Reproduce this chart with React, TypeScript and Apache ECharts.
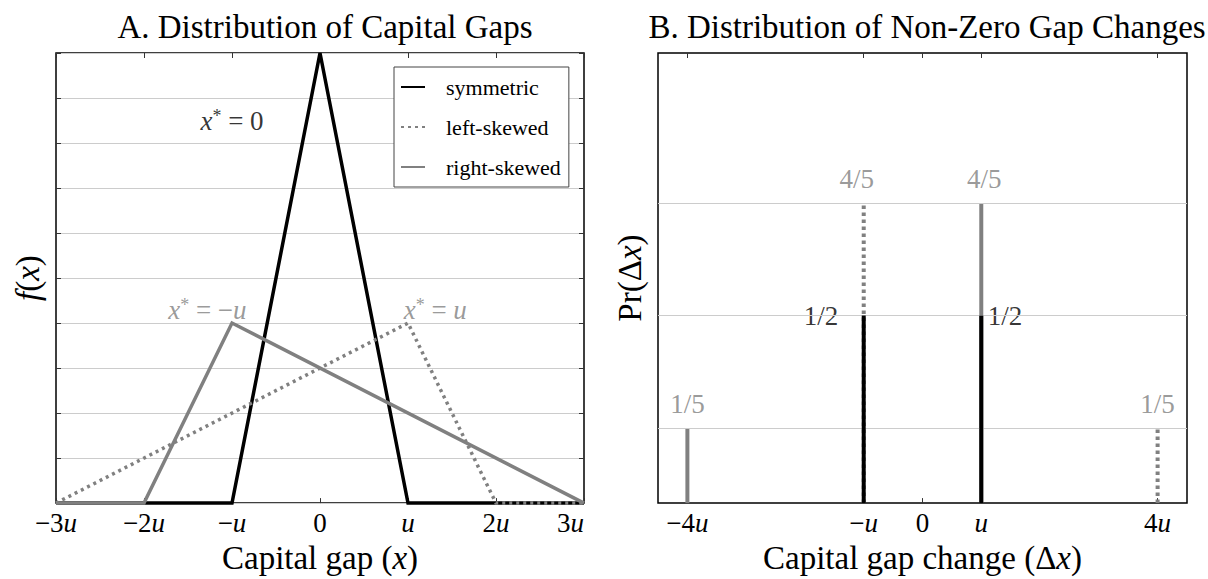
import React, { useEffect, useRef } from 'react';
import * as echarts from 'echarts';

const FONT = 'Liberation Serif, DejaVu Serif, serif';
const BLACK = '#000000';
const GRAY = '#808080';
const GRID_GRAY = '#cccccc';

// ---------- Panel A: distribution of capital gaps (x in units of u, f in units of 1/u)
const seriesNames = ['symmetric', 'left-skewed', 'right-skewed'];
const symmetricX = [-3, -1, 0, 1, 3];
const symmetricY = [0, 0, 1, 0, 0];
const leftSkewedX = [-3, 1, 2, 3];
const leftSkewedY = [0, 0.4, 0, 0];
const rightSkewedX = [-3, -2, -1, 3];
const rightSkewedY = [0, 0, 0.4, 0];
const gapTickValues = [-3, -2, -1, 0, 1, 2, 3];
const gapTickLabels = ['−3u', '−2u', '−u', '0', 'u', '2u', '3u'];
const modeLabelValues = ['0', '−u', 'u'];
const modeLabelX = [-1, -1.28, 1.31];
const modeLabelY = [0.85, 0.43, 0.43];
const modeLabelColors = [BLACK, GRAY, GRAY];

// ---------- Panel B: distribution of non-zero gap changes
const changeTickValues = [-4, -1, 0, 1, 4];
const changeTickLabels = ['−4u', '−u', '0', 'u', '4u'];
const symmetricChangeX = [-1, 1];
const symmetricChangeP = [0.5, 0.5];
const symmetricChangeLabels = ['1/2', '1/2'];
const leftChangeX = [-1, 4];
const leftChangeP = [0.8, 0.2];
const leftChangeLabels = ['4/5', '1/5'];
const rightChangeX = [-4, 1];
const rightChangeP = [0.2, 0.8];
const rightChangeLabels = ['1/5', '4/5'];
const probGridLevels = [0.2, 0.5, 0.8];

const styles = [
  { color: BLACK, type: 'solid' as any, widthA: 3.5, widthB: 4 },
  { color: GRAY, type: [3, 4] as any, widthA: 3.5, widthB: 4 },
  { color: GRAY, type: 'solid' as any, widthA: 3.5, widthB: 4 },
];

const italic = (size: number, color = BLACK) => ({
  fontFamily: FONT,
  fontSize: size,
  fontStyle: 'italic',
  fontWeight: 'normal',
  color,
});
const upright = (size: number, color = BLACK) => ({
  fontFamily: FONT,
  fontSize: size,
  fontWeight: 'normal',
  color,
});

const mathTick = (s: string) => {
  const m = s.match(/^(.*?)(u?)$/);
  const num = m ? m[1] : s;
  const hasU = m ? m[2] === 'u' : false;
  return (num ? '{n|' + num + '}' : '') + (hasU ? '{i|u}' : '');
};

const tickAxisLabel = (values: number[], labels: string[]) => ({
  show: true,
  margin: 6,
  fontFamily: FONT,
  fontSize: 27,
  fontWeight: 'normal',
  color: BLACK,
  formatter: (v: number) => {
    const idx = values.findIndex((t) => Math.abs(t - v) < 1e-9);
    return idx >= 0 ? mathTick(labels[idx]) : '';
  },
  rich: { i: italic(27), n: upright(27) },
});

export default function App() {
  const ref = useRef<HTMLDivElement>(null);

  useEffect(() => {
    document.body.style.margin = '0';
    if (!ref.current) return;
    const chart = echarts.init(ref.current, undefined, { renderer: 'svg' });

    const xsA = [symmetricX, leftSkewedX, rightSkewedX];
    const ysA = [symmetricY, leftSkewedY, rightSkewedY];

    const seriesA = seriesNames.map((name, k) => ({
      name,
      type: 'line',
      xAxisIndex: 0,
      yAxisIndex: 0,
      data: xsA[k].map((x, i) => [x, ysA[k][i]]),
      symbol: 'none',
      clip: false,
      z: 3 + k,
      lineStyle: { color: styles[k].color, width: styles[k].widthA, type: styles[k].type, cap: 'butt', join: 'miter' },
      itemStyle: { color: styles[k].color },
    }));

    const stemXs = [symmetricChangeX, leftChangeX, rightChangeX];
    const stemPs = [symmetricChangeP, leftChangeP, rightChangeP];
    const stemSeries: any[] = [];
    [1, 2, 0].forEach((k) => {
      stemXs[k].forEach((x, i) => {
        stemSeries.push({
          name: seriesNames[k],
          type: 'line',
          xAxisIndex: 2,
          yAxisIndex: 2,
          data: [
            [x, 0],
            [x, stemPs[k][i]],
          ],
          symbol: 'none',
          clip: false,
          z: k === 0 ? 6 : 4,
          lineStyle: { color: styles[k].color, width: styles[k].widthB, type: k === 1 ? [3.5, 3.5] : 'solid', cap: 'butt' },
          itemStyle: { color: styles[k].color },
        });
      });
    });

    const probLabelData: any[] = [];
    symmetricChangeX.forEach((x, i) => {
      probLabelData.push({
        value: [x, symmetricChangeP[i]],
        label: {
          show: true,
          formatter: symmetricChangeLabels[i],
          position: x < 0 ? 'left' : 'right',
          distance: x < 0 ? 25 : 6,
          color: BLACK,
          fontFamily: FONT,
          fontWeight: 'normal',
          fontSize: 27,
        },
      });
    });
    [
      [leftChangeX, leftChangeP, leftChangeLabels],
      [rightChangeX, rightChangeP, rightChangeLabels],
    ].forEach(([xs, ps, ls]: any) => {
      xs.forEach((x: number, i: number) => {
        const p = ps[i];
        const nudge = p > 0.5 ? (x < 0 ? -7 : 3) : 0;
        probLabelData.push({
          value: [x, p],
          label: {
            show: true,
            formatter: ls[i],
            position: 'top',
            distance: 10,
            offset: [nudge, 0],
            color: GRAY,
            fontFamily: FONT,
            fontWeight: 'normal',
            fontSize: 27,
          },
        });
      });
    });

    const modeData = modeLabelValues.map((v, i) => {
      const valPart = v.endsWith('u') ? (v.length > 1 ? '{n|' + v.slice(0, -1) + '}' : '') + '{x|u}' : '{n|' + v + '}';
      return {
        value: [modeLabelX[i], modeLabelY[i]],
        label: {
          show: true,
          position: 'inside',
          formatter: '{x|x}{s|*}{n| = }' + valPart,
          rich: {
            x: italic(27, modeLabelColors[i]),
            s: { ...upright(18, modeLabelColors[i]), verticalAlign: 'top' },
            n: upright(27, modeLabelColors[i]),
          },
        },
      };
    });

    const hiddenAxis = {
      axisLine: { show: false, onZero: false },
      axisLabel: { show: false },
      splitLine: { show: false },
    };
    const tickStyle = { inside: true, length: 5, lineStyle: { color: '#333', width: 1 } };
    const nameStyle = { fontFamily: FONT, fontSize: 33, fontWeight: 'normal', color: BLACK, rich: { i: italic(33), n: upright(33) } };

    const option: any = {
      animation: false,
      backgroundColor: '#ffffff',
      textStyle: { fontFamily: FONT, fontWeight: 'normal' },
      title: [
        {
          text: 'A. Distribution of Capital Gaps',
          left: 320,
          top: 5,
          textAlign: 'center',
          textStyle: { fontFamily: FONT, fontSize: 33, fontWeight: 'normal', color: BLACK },
        },
        {
          text: 'B. Distribution of Non-Zero Gap Changes',
          left: 922,
          top: 5,
          textAlign: 'center',
          textStyle: { fontFamily: FONT, fontSize: 33, fontWeight: 'normal', color: BLACK },
        },
      ],
      legend: {
        data: seriesNames,
        orient: 'vertical',
        left: 394,
        top: 67,
        itemWidth: 24,
        itemHeight: 12,
        itemGap: 18,
        padding: [9, 8, 9, 6],
        borderColor: '#444',
        borderWidth: 1,
        borderRadius: 0,
        backgroundColor: '#ffffff',
        itemStyle: { opacity: 0 },
        textStyle: { fontFamily: FONT, fontSize: 22, fontWeight: 'normal', color: BLACK, lineHeight: 22, padding: [0, 0, 0, 16] },
        selectedMode: false,
      },
      grid: [
        { left: 56, top: 53, width: 528, height: 454, show: true, borderColor: BLACK, borderWidth: 1.5, backgroundColor: 'transparent' },
        { left: 658, top: 53, width: 529, height: 454, show: true, borderColor: BLACK, borderWidth: 1.5, backgroundColor: 'transparent' },
      ],
      xAxis: [
        {
          gridIndex: 0,
          type: 'value',
          min: -3,
          max: 3,
          interval: 1,
          position: 'bottom',
          axisLine: { show: false, onZero: false },
          axisTick: tickStyle,
          splitLine: { show: false },
          axisLabel: { ...tickAxisLabel(gapTickValues, gapTickLabels), alignMaxLabel: 'right' },
          name: '{n|Capital gap (}{i|x}{n|)}',
          nameLocation: 'middle',
          nameGap: 33,
          nameTextStyle: nameStyle,
        },
        { gridIndex: 0, type: 'value', min: -3, max: 3, interval: 1, position: 'top', axisTick: tickStyle, ...hiddenAxis },
        {
          gridIndex: 1,
          type: 'value',
          min: -4.5,
          max: 4.5,
          position: 'bottom',
          axisLine: { show: false, onZero: false },
          axisTick: { ...tickStyle, customValues: changeTickValues },
          splitLine: { show: false },
          axisLabel: { ...tickAxisLabel(changeTickValues, changeTickLabels), customValues: changeTickValues },
          name: '{n|Capital gap change (Δ}{i|x}{n|)}',
          nameLocation: 'middle',
          nameGap: 33,
          nameTextStyle: nameStyle,
        },
        {
          gridIndex: 1,
          type: 'value',
          min: -4.5,
          max: 4.5,
          position: 'top',
          axisTick: { ...tickStyle, customValues: changeTickValues },
          ...hiddenAxis,
        },
      ],
      yAxis: [
        {
          gridIndex: 0,
          type: 'value',
          min: 0,
          max: 1,
          interval: 0.1,
          position: 'left',
          axisLine: { show: false, onZero: false },
          axisTick: tickStyle,
          axisLabel: { show: false },
          splitLine: { show: true, lineStyle: { color: GRID_GRAY, width: 1 } },
          name: '{i|f}{n|(}{i|x}{n|)}',
          nameLocation: 'middle',
          nameRotate: 90,
          nameGap: 12,
          nameTextStyle: nameStyle,
        },
        { gridIndex: 0, type: 'value', min: 0, max: 1, interval: 0.1, position: 'right', axisTick: tickStyle, ...hiddenAxis },
        {
          gridIndex: 1,
          type: 'value',
          min: 0,
          max: 1.2,
          position: 'left',
          axisLine: { show: false, onZero: false },
          axisTick: { ...tickStyle, customValues: probGridLevels },
          axisLabel: { show: false },
          splitLine: { show: false },
          name: '{n|Pr(Δ}{i|x}{n|)}',
          nameLocation: 'middle',
          nameRotate: 90,
          nameGap: 12,
          nameTextStyle: nameStyle,
        },
        {
          gridIndex: 1,
          type: 'value',
          min: 0,
          max: 1.2,
          position: 'right',
          axisTick: { ...tickStyle, customValues: probGridLevels },
          ...hiddenAxis,
        },
      ],
      series: [
        ...seriesA,
        {
          type: 'scatter',
          name: 'modes',
          xAxisIndex: 0,
          yAxisIndex: 0,
          symbolSize: 1,
          itemStyle: { color: 'rgba(0,0,0,0)' },
          z: 8,
          silent: true,
          data: modeData,
        },
        {
          type: 'scatter',
          name: 'probLabels',
          xAxisIndex: 2,
          yAxisIndex: 2,
          symbolSize: 1,
          itemStyle: { color: 'rgba(0,0,0,0)' },
          z: 1,
          silent: true,
          data: probLabelData,
          markLine: {
            silent: true,
            symbol: 'none',
            label: { show: false },
            lineStyle: { color: GRID_GRAY, width: 1, type: 'solid' },
            data: probGridLevels.map((y) => ({ yAxis: y })),
          },
        },
        ...stemSeries,
      ],
    };

    chart.setOption(option);
    return () => chart.dispose();
  }, []);

  return (
    <div
      ref={ref}
      style={{ position: 'fixed', left: 0, top: 0, width: 1208, height: 579, background: '#fff' }}
    />
  );
}
